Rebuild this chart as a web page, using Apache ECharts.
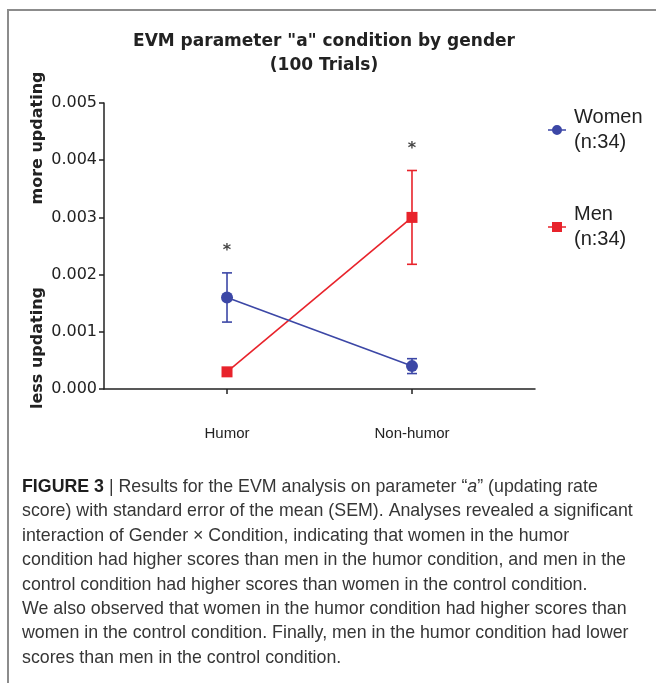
<!DOCTYPE html>
<html>
<head>
<meta charset="utf-8">
<script src="https://cdn.jsdelivr.net/npm/echarts@6/dist/echarts.min.js"></script>
<style>
html,body{margin:0;padding:0;background:#fff;}
#chart{width:656px;height:683px;}
</style>
</head>
<body>
<div id="chart"></div>
<script>
const categories = ['Humor', 'Non-humor'];
const womenMean = [0.0016, 0.0004];
const womenSEM = [0.00043, 0.00013];
const menMean = [0.0003, 0.0030];
const menSEM = [0.00005, 0.00082];
const sigMarkY = [0.0025, 0.00428];
const yTicks = [0, 0.001, 0.002, 0.003, 0.004, 0.005];
const titleLines = ['EVM parameter "a" condition by gender', '(100 Trials)'];
const legendNames = ['Women\n(n:34)', 'Men\n(n:34)'];
const captionLines = [
  '{b|FIGURE 3} | Results for the EVM analysis on parameter \u201c{i|a}\u201d (updating rate',
  'score) with standard error of the mean (SEM). Analyses revealed a significant',
  'interaction of Gender \u00d7 Condition, indicating that women in the humor',
  'condition had higher scores than men in the humor condition, and men in the',
  'control condition had higher scores than women in the control condition.',
  'We also observed that women in the humor condition had higher scores than',
  'women in the control condition. Finally, men in the humor condition had lower',
  'scores than men in the control condition.'
];

const BLUE = '#3c47a6';
const RED = '#e8232b';

function errData(mean, sem) {
  return mean.map((m, i) => [i, m - sem[i], m + sem[i]]);
}
function errRender(color) {
  return function (params, api) {
    const x = api.value(0);
    const lo = api.coord([x, api.value(1)]);
    const hi = api.coord([x, api.value(2)]);
    const hw = 5;
    const st = { stroke: color, lineWidth: 1.6 };
    return {
      type: 'group',
      children: [
        { type: 'line', shape: { x1: lo[0], y1: lo[1], x2: hi[0], y2: hi[1] }, style: st },
        { type: 'line', shape: { x1: lo[0] - hw, y1: lo[1], x2: lo[0] + hw, y2: lo[1] }, style: st },
        { type: 'line', shape: { x1: hi[0] - hw, y1: hi[1], x2: hi[0] + hw, y2: hi[1] }, style: st }
      ]
    };
  };
}

const chart = echarts.init(document.getElementById('chart'), null, { renderer: 'canvas' });
const tickFont = 'DejaVu Sans';
const capSize = 17.8;
const capLH = 24.4;

chart.setOption({
  animation: false,
  backgroundColor: '#fff',
  title: {
    text: titleLines.join('\n'),
    left: 319, textAlign: 'center', top: 25,
    textStyle: { fontFamily: 'DejaVu Sans', fontWeight: 'bold', fontSize: 17, color: '#222', lineHeight: 24 }
  },
  legend: {
    orient: 'vertical', left: 548, top: 105, itemGap: 47, padding: 0,
    itemWidth: 18, itemHeight: 10,
    textStyle: { fontFamily: 'Liberation Sans', fontSize: 20, color: '#222', lineHeight: 25, padding: [0, 0, 0, 3] },
    data: [
      { name: legendNames[0], icon: 'path://M0,4.2H18V5.8H0Z M4,5A5,5 0 1 1 14,5A5,5 0 1 1 4,5Z', itemStyle: { color: BLUE } },
      { name: legendNames[1], icon: 'path://M0,4.2H18V5.8H0Z M4,0H14V10H4Z', itemStyle: { color: RED } }
    ]
  },
  grid: { left: 104, right: 121, top: 103, bottom: 294 },
  xAxis: {
    type: 'value', min: -0.665, max: 1.665,
    splitLine: { show: false },
    axisLine: { onZero: false, lineStyle: { color: '#222', width: 1.5 } },
    axisTick: { customValues: [0, 1], length: 5, lineStyle: { color: '#222', width: 1.5 } },
    axisLabel: {
      customValues: [0, 1], margin: 37,
      formatter: v => categories[Math.round(v)],
      fontFamily: 'Liberation Sans', fontSize: 15, color: '#222'
    }
  },
  yAxis: {
    type: 'value', min: 0, max: 0.005, interval: 0.001,
    splitLine: { show: false },
    axisLine: { show: true, onZero: false, lineStyle: { color: '#222', width: 1.5 } },
    axisTick: { show: true, length: 5, lineStyle: { color: '#222', width: 1.5 } },
    axisLabel: {
      margin: 7, formatter: v => v.toFixed(3),
      fontFamily: tickFont, fontSize: 16, color: '#222'
    }
  },
  graphic: [
    { type: 'polyline', shape: { points: [[8, 683], [8, 10], [656, 10]] }, style: { stroke: '#8c8c8c', lineWidth: 2, fill: null } },
    { type: 'text', x: 38, y: 138, rotation: Math.PI / 2, style: { text: 'more updating', fontFamily: 'DejaVu Sans', fontWeight: 'bold', fontSize: 16, fill: '#222', align: 'center', verticalAlign: 'middle' } },
    { type: 'text', x: 38, y: 348, rotation: Math.PI / 2, style: { text: 'less updating', fontFamily: 'DejaVu Sans', fontWeight: 'bold', fontSize: 16, fill: '#222', align: 'center', verticalAlign: 'middle' } },
    {
      type: 'text', x: 22, y: 475,
      style: {
        text: captionLines.join('\n'),
        fontFamily: 'Liberation Sans', fontSize: capSize, fill: '#363636', lineHeight: capLH,
        rich: {
          b: { fontFamily: 'Liberation Sans', fontWeight: 'bold', fontSize: capSize, fill: '#1e1e1e', lineHeight: capLH },
          i: { fontFamily: 'Liberation Sans', fontStyle: 'italic', fontSize: capSize, fill: '#363636', lineHeight: capLH }
        }
      }
    }
  ],
  series: [
    {
      name: legendNames[1], type: 'line', data: menMean.map((v, i) => [i, v]),
      symbol: 'rect', symbolSize: 11, showSymbol: true,
      lineStyle: { color: RED, width: 1.6 }, itemStyle: { color: RED }, z: 3
    },
    {
      name: legendNames[0], type: 'line', data: womenMean.map((v, i) => [i, v]),
      symbol: 'circle', symbolSize: 12, showSymbol: true,
      lineStyle: { color: BLUE, width: 1.6 }, itemStyle: { color: BLUE }, z: 4
    },
    { name: legendNames[1], type: 'custom', renderItem: errRender(RED), data: errData(menMean, menSEM), z: 2 },
    { name: legendNames[0], type: 'custom', renderItem: errRender(BLUE), data: errData(womenMean, womenSEM), z: 2 },
    {
      type: 'scatter', data: sigMarkY.map((v, i) => [i, v]), symbolSize: 0, silent: true,
      label: { show: true, position: 'inside', offset: [0, 5], formatter: '*', fontFamily: 'DejaVu Sans', fontWeight: 'bold', fontSize: 16, color: '#111' }
    }
  ]
});
</script>
</body>
</html>
